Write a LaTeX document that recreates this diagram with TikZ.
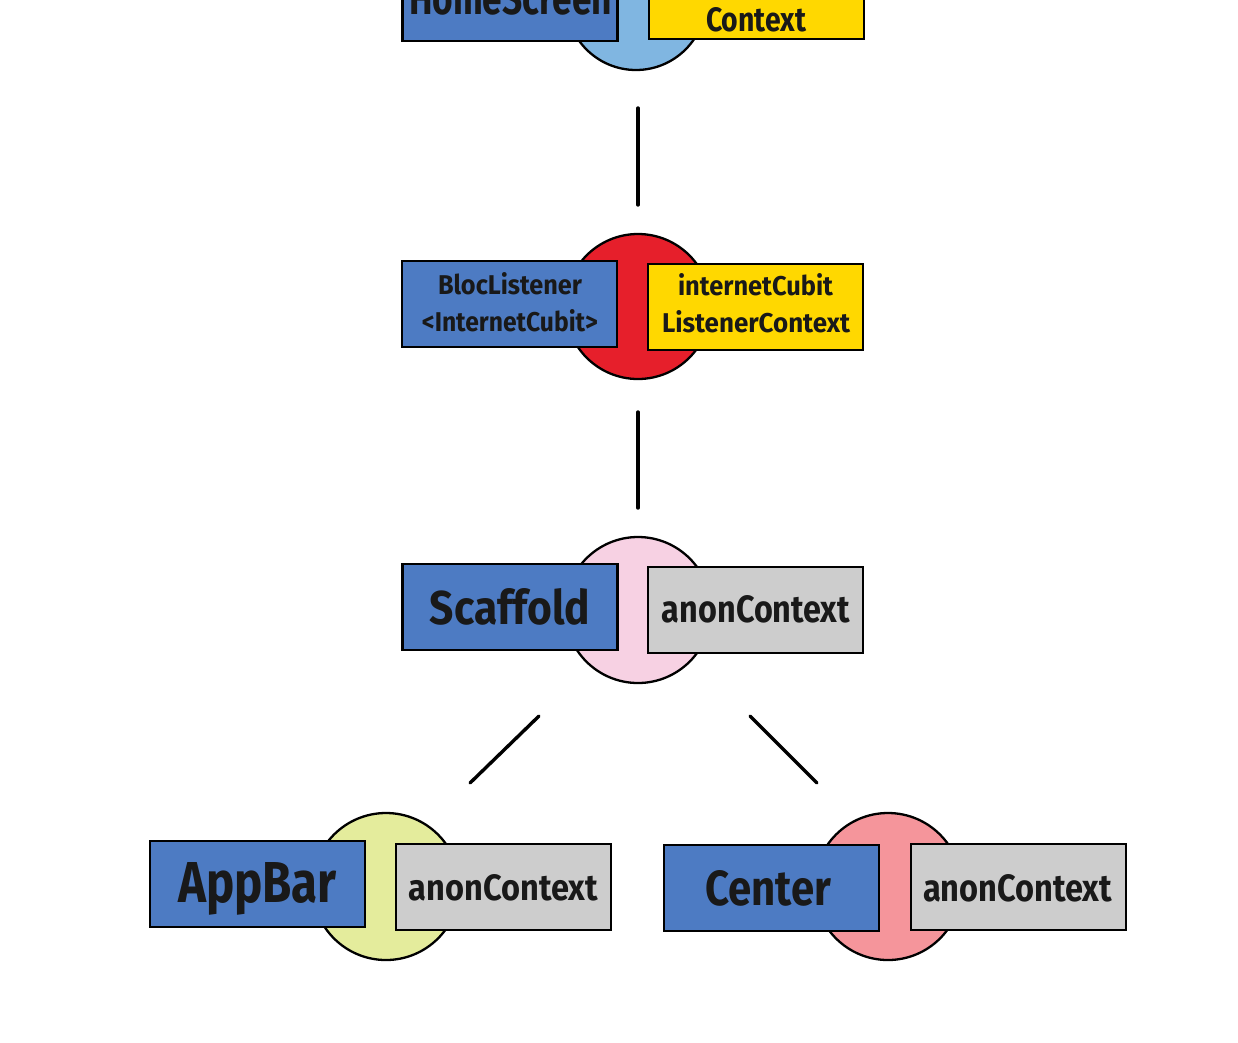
\documentclass[tikz,border=0pt]{standalone}
\usepackage{fontspec}
\setmainfont{Fira Sans}
\definecolor{boxblue}{HTML}{4D7BC3}
\definecolor{ctxyellow}{HTML}{FFD800}
\definecolor{ctxgray}{HTML}{CDCDCD}
\definecolor{cblue}{HTML}{80B6E1}
\definecolor{cred}{HTML}{E61F2B}
\definecolor{cpink}{HTML}{F7D1E3}
\definecolor{clime}{HTML}{E4EC9C}
\definecolor{csalmon}{HTML}{F5959B}
\newcommand{\tx}[3]{\resizebox{#1pt}{#2pt}{\bfseries #3}}
\tikzset{
  wbox/.style={draw=black, line width=2.6pt, rectangle, minimum width=215pt, minimum height=86pt, inner sep=0pt},
  bluebox/.style={wbox, fill=boxblue},
  yellowbox/.style={wbox, fill=ctxyellow},
  graybox/.style={wbox, fill=ctxgray},
  ring/.style={draw=black, line width=2.3pt, circle, inner sep=0pt},
  txt/.style={inner sep=0pt, outer sep=0pt, anchor=base, text=black!90},
  link/.style={draw=black, line width=3.4pt, line cap=round}
}
\begin{document}
\begin{tikzpicture}[x=1pt,y=-1pt]
\useasboundingbox (0,0) rectangle (1238,1042);
\clip (0,0) rectangle (1238,1042);
\fill[white] (0,0) rectangle (1238,1042);

% top group (cut off)
\node[ring, fill=cblue, minimum size=140pt] (c0) at (636,0) {};
\node[bluebox] (b0) at (510,-2) {};
\node[yellowbox] (y0) at (756.5,-4) {};
\node[txt] (t0a) at (510.5,14) {\tx{203}{32}{HomeScreen}};
\node[txt] (t0b) at (756,31) {\tx{100}{24}{Context}};

% BlocListener group
\node[ring, fill=cred, minimum size=145pt] (c1) at (638,306.5) {};
\node[bluebox] (b1) at (509.5,304) {};
\node[yellowbox] (y1) at (755.5,307) {};
\node[txt] (t1a) at (510,294) {\tx{144}{22}{BlocListener}};
\node[txt] (t1b) at (510,331) {\tx{176}{22}{<InternetCubit>}};
\node[txt] (t1c) at (755.5,295) {\tx{155}{22}{internetCubit}};
\node[txt] (t1d) at (756,332) {\tx{188}{22}{ListenerContext}};

% Scaffold group
\node[ring, fill=cpink, minimum size=146pt] (c2) at (638,610) {};
\node[bluebox] (b2) at (510,607) {};
\node[graybox] (g2) at (755.5,610) {};
\node[txt] (t2a) at (510,624) {\tx{160}{36}{Scaffold}};
\node[txt] (t2b) at (756,622) {\tx{188}{27}{anonContext}};

% AppBar group
\node[ring, fill=clime, minimum size=147pt] (c3) at (386,886.5) {};
\node[bluebox] (b3) at (257.5,884) {};
\node[graybox] (g3) at (503.5,887) {};
\node[txt] (t3a) at (257.5,902) {\tx{159}{40}{AppBar}};
\node[txt] (t3b) at (503.5,900) {\tx{189}{26}{anonContext}};

% Center group
\node[ring, fill=csalmon, minimum size=147pt] (c4) at (888,886.5) {};
\node[bluebox] (b4) at (771.5,888) {};
\node[graybox] (g4) at (1018.5,887) {};
\node[txt] (t4a) at (768,905) {\tx{126}{35}{Center}};
\node[txt] (t4b) at (1017.5,901) {\tx{189}{27}{anonContext}};

% connectors
\coordinate (l1a) at (638,108); \coordinate (l1b) at (638,205);
\coordinate (l2a) at (638,412); \coordinate (l2b) at (638,508);
\coordinate (l3a) at (539,716); \coordinate (l3b) at (470,783);
\coordinate (l4a) at (750,716); \coordinate (l4b) at (817,783);
\draw[link] (l1a) -- (l1b);
\draw[link] (l2a) -- (l2b);
\draw[link] (l3a) -- (l3b);
\draw[link] (l4a) -- (l4b);
\end{tikzpicture}
\end{document}
